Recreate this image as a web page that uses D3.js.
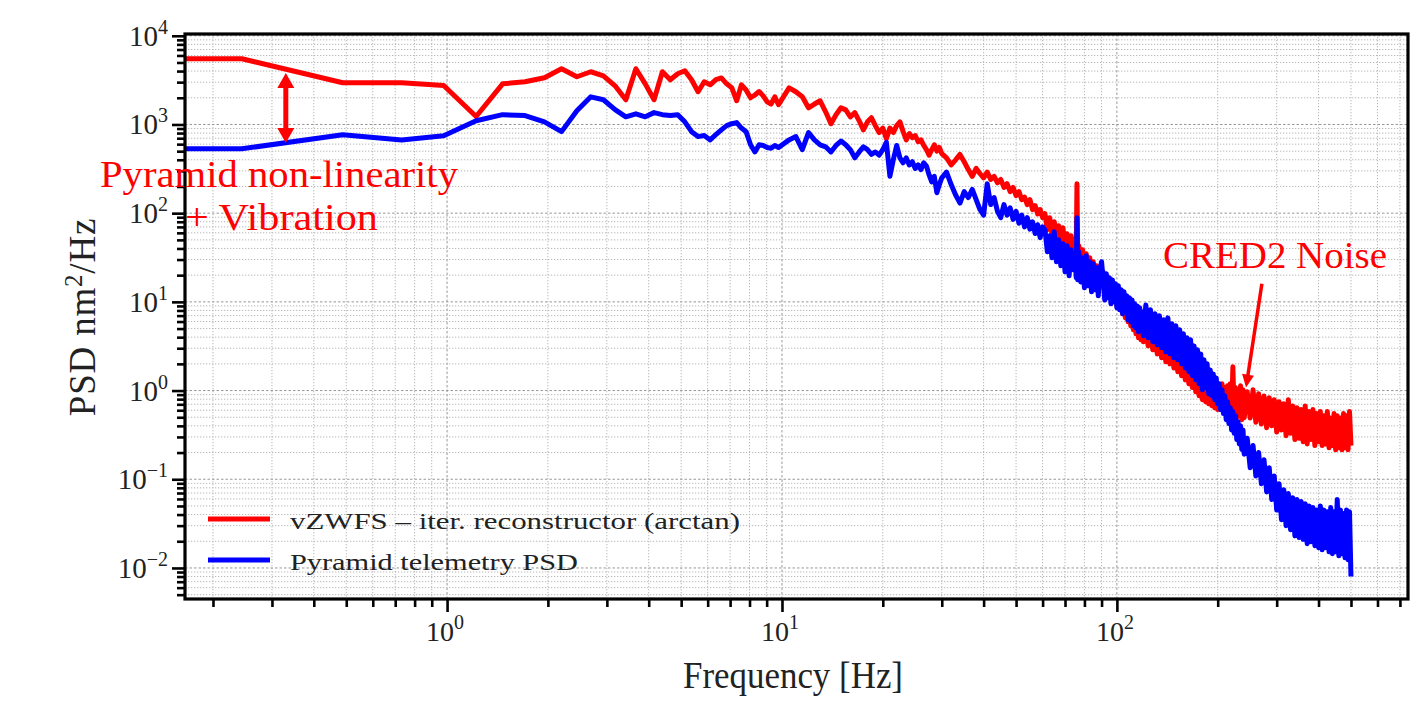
<!DOCTYPE html>
<html lang="en">
<head>
<meta charset="UTF-8" />
<title>PSD comparison</title>
<script src="https://d3js.org/d3.v7.min.js"></script>
<style>
  body { margin: 0; background: #fff; }
  text { font-family: 'Liberation Serif', 'DejaVu Serif', serif; }
</style>
</head>
<body>
<svg width="1417" height="702"></svg>
<script>
// frequency bins [Hz] (dense part thinned)
var freq = [
  0.165, 0.244, 0.488, 0.732, 0.977, 1.221, 1.465, 1.709, 1.953, 2.197, 2.441, 2.686, 2.930, 3.174, 3.418, 3.662, 3.906, 4.150, 4.395, 4.639,
  4.883, 5.127, 5.371, 5.615, 5.859, 6.104, 6.348, 6.592, 6.836, 7.080, 7.324, 7.568, 7.813, 8.057, 8.301, 8.545, 8.789, 9.033, 9.277, 9.521, 9.766,
  10.5, 11, 11.5, 12, 12.5, 13, 13.5, 14, 14.5, 15, 15.5, 16, 16.5, 17, 17.5, 18, 18.5, 19, 19.5, 20,
  20.5, 21, 21.5, 22, 22.5, 23, 23.5, 24, 24.5, 25, 25.5, 26, 26.5, 27, 27.5, 28, 28.5, 29, 29.5, 30,
  31, 32, 33, 34, 35, 36, 37, 38, 39, 40, 41, 42, 43, 44, 45, 46, 47, 48, 49, 50, 51, 52, 53, 54, 55, 56, 57, 58, 59, 60,
  61, 62, 63, 64, 65, 66, 67, 68, 69, 70, 71, 72, 73, 74, 75, 75.6, 76, 76.4, 77, 78, 79, 80,
  81, 82, 83, 84, 85, 86, 87, 88, 89, 90, 91, 92, 93, 94, 95, 96, 97, 98, 99, 100,
  101, 102, 103, 104, 105, 106, 107, 108, 109, 110, 111, 112, 113, 114, 115, 116, 117, 118, 119, 120,
  122, 124, 126, 128, 130, 132, 134, 136, 138, 140, 142, 144, 146, 148, 150, 152, 154, 156, 158, 160,
  162, 164, 166, 168, 170, 172, 174, 176, 178, 180, 182, 184, 186, 188, 190, 192, 194, 196, 198, 200,
  202, 204, 206, 208, 210, 212, 214, 216, 218, 220, 222, 224, 226, 228, 230, 232, 234, 236, 238, 240,
  245, 250, 255, 260, 265, 270, 275, 280, 285, 290, 295, 300, 305, 310, 315, 320, 325, 330, 335, 340, 345, 350, 355, 360, 365, 370,
  375, 380, 385, 390, 395, 400, 405, 410, 415, 420, 425, 430, 435, 440, 445, 450, 455, 460, 465, 470, 475, 480, 485, 490, 495, 500
]

// vZWFS - iter. reconstructor (arctan) PSD [nm^2/Hz]
var psdVzwfs = [
  5500, 5500, 2950, 2950, 2750, 1230, 2870, 3030, 3360, 4250, 3450, 3930, 3540, 2730, 1900, 4250, 2870, 1900, 3930, 3190,
  3730, 4030, 3190, 2340, 3030, 2800, 3200, 3350, 2870, 2600, 1850, 2800, 2450, 2000, 2150, 2350, 2100, 1800, 1700, 2050, 1670,
  2590, 2340, 2050, 1540, 1700, 1850, 1390, 1020, 1290, 1540, 1460, 1220, 1360, 1100, 870, 1070, 1190, 970, 810, 910,
  690, 910, 810, 970, 1070, 830, 670, 790, 710, 750, 640, 670, 580, 520, 450, 520, 590, 500, 550, 470,
  420, 350, 400, 460, 380, 310, 260, 320, 280, 250, 290, 240, 260, 220, 240, 195, 215, 175, 195, 158, 175, 142, 152, 125, 142, 110, 122, 98, 110, 89,
  98.5, 65, 88.8, 58.6, 80, 55.6, 72.1, 50.1, 68.5, 45.2, 58.6, 40.7, 55.6, 36.7, 50.1, 34.9, 215, 33.1, 42.9, 28.3, 38.7, 26.9,
  34.9, 23.0, 31.4, 20.7, 28.3, 18.7, 25.5, 16.8, 23.0, 15.2, 21.8, 13.7, 19.7, 12.3, 17.7, 11.1, 16.0, 10.0, 14.4, 9.0,
  13.0, 8.13, 11.7, 7.33, 10.5, 6.60, 9.5, 5.95, 8.56, 5.37, 7.72, 4.84, 6.96, 4.36, 6.27, 3.93, 5.95, 3.73, 5.37, 3.54,
  4.84, 3.19, 4.36, 2.88, 3.93, 2.59, 3.73, 2.34, 3.36, 2.11, 3.03, 2.00, 2.88, 1.80, 2.59, 1.63, 2.34, 1.47, 2.11, 1.32,
  1.90, 1.19, 1.71, 1.08, 1.63, 0.97, 1.47, 0.875, 1.39, 0.79, 1.32, 0.75, 1.26, 0.71, 1.32, 0.675, 1.19, 0.64, 1.26, 0.61,
  1.13, 0.61, 1.19, 0.58, 1.08, 0.55, 1.13, 0.55, 1.19, 0.52, 1.85, 0.52, 1.08, 0.495, 1.02, 0.52, 1.13, 0.47, 1.02, 0.495,
  0.97, 0.49, 1.02, 0.44, 0.92, 0.42, 0.87, 0.38, 0.83, 0.40, 0.79, 0.34, 0.75, 0.36, 0.71, 0.31, 0.79, 0.33, 0.67, 0.28, 0.64, 0.29, 0.61, 0.265, 0.67, 0.25,
  0.58, 0.28, 0.61, 0.24, 0.55, 0.265, 0.58, 0.24, 0.52, 0.25, 0.58, 0.226, 0.49, 0.24, 0.55, 0.215, 0.52, 0.226, 0.49, 0.215, 0.55, 0.226, 0.52, 0.215, 0.58, 0.24
]

// Pyramid telemetry PSD [nm^2/Hz]
var psdPyramid = [
  532, 532, 765, 670, 747, 1100, 1290, 1260, 1070, 830, 1430, 2050, 1900, 1470, 1220, 1320, 1220, 1360, 1290, 1260,
  1290, 1070, 830, 730, 750, 670, 770, 870, 970, 1020, 1050, 910, 830, 590, 490, 590, 580, 550, 540, 580, 550,
  670, 730, 520, 810, 670, 590, 560, 490, 580, 650, 590, 520, 420, 490, 560, 520, 460, 490, 450, 520,
  630, 260, 400, 580, 420, 370, 420, 350, 380, 320, 350, 310, 370, 340, 270, 225, 260, 170, 210, 250,
  290, 210, 160, 130, 175, 150, 185, 142, 110, 95, 215, 125, 150, 105, 89, 125, 95, 115, 85, 105, 77, 95, 70, 89, 66, 80, 59, 74, 53, 70,
  65, 36.7, 55.6, 31.4, 61.7, 28.3, 50.1, 25.5, 45.2, 21.8, 42.9, 19.7, 38.7, 23.0, 34.9, 18.7, 88.8, 17.7, 36.7, 16.8, 31.4, 14.4,
  33.1, 15.2, 28.3, 13.0, 26.9, 13.7, 24.2, 11.7, 23.0, 28.3, 17.7, 10.5, 20.7, 11.1, 18.7, 9.5, 17.7, 10.0, 16.0, 8.56,
  15.2, 8.13, 13.7, 7.33, 13.0, 7.72, 11.7, 6.27, 11.1, 5.95, 10.5, 5.37, 9.5, 5.10, 9.0, 4.59, 8.56, 4.84, 7.72, 4.14,
  9.2, 3.93, 8.13, 3.54, 7.33, 3.27, 6.96, 3.03, 6.27, 2.73, 6.60, 2.59, 5.65, 2.34, 5.37, 2.22, 4.84, 2.00, 4.36, 1.80,
  3.93, 1.63, 3.73, 1.47, 3.19, 1.32, 2.88, 1.19, 2.59, 1.02, 2.22, 1.08, 2.00, 0.92, 1.71, 0.875, 1.54, 0.79, 1.39, 0.71,
  1.19, 0.61, 1.02, 0.55, 0.875, 0.47, 0.75, 0.424, 0.64, 0.36, 0.58, 0.33, 0.52, 0.28, 0.446, 0.25, 0.40, 0.217, 0.36, 0.192,
  0.29, 0.135, 0.24, 0.109, 0.20, 0.089, 0.166, 0.072, 0.135, 0.059, 0.109, 0.045, 0.089, 0.035, 0.076, 0.030, 0.069, 0.027, 0.062, 0.023, 0.059, 0.022, 0.056, 0.021, 0.053, 0.0188,
  0.050, 0.0197, 0.048, 0.0178, 0.045, 0.0169, 0.050, 0.016, 0.045, 0.0169, 0.043, 0.0152, 0.048, 0.0145, 0.043, 0.0152, 0.059, 0.0137, 0.045, 0.0145, 0.041, 0.013, 0.045, 0.0124, 0.043, 0.008
]

var xMajor = [1, 10, 100]
var xExp = ['0', '1', '2']
var yMajor = [1e-2, 1e-1, 1, 10, 100, 1000, 10000]
var yExp = ['\u22122', '\u22121', '0', '1', '2', '3', '4']
var seriesNames = ['vZWFS \u2013 iter. reconstructor (arctan)', 'Pyramid telemetry PSD']
var seriesColors = ['#ff0000', '#0000ff']

var svg = d3.select('svg')
var pl = 185, pr = 1408, pt = 34, pb = 599

var x = d3.scaleLog().domain([0.165, 740]).range([pl, pr])
var y = d3.scaleLog().domain([Math.pow(10, -2.35), Math.pow(10, 4.02)]).range([pb, pt])

// 2..9 x 10^n inside the domain
function minorsOf(scale) {
  var d = scale.domain(), out = []
  for (var e = Math.floor(Math.log10(d[0])); e <= Math.ceil(Math.log10(d[1])); e++) {
    for (var m = 2; m <= 9; m++) {
      var v = m * Math.pow(10, e)
      if (v >= d[0] && v <= d[1]) out.push(v)
    }
  }
  return out
}
var xMinor = minorsOf(x)
var yMinor = minorsOf(y)

// grid
var grid = svg.append('g')
grid.selectAll('.gx').data(xMinor.concat(xMajor)).enter().append('line')
  .attr('x1', function (d) { return x(d) }).attr('x2', function (d) { return x(d) })
  .attr('y1', pt).attr('y2', pb)
  .attr('stroke', function (d) { return xMajor.indexOf(d) >= 0 ? '#999' : '#b8b8b8' })
  .attr('stroke-width', 1)
  .attr('stroke-dasharray', function (d) { return xMajor.indexOf(d) >= 0 ? '2.5,2' : '1.3,1.7' })
grid.selectAll('.gy').data(yMinor.concat(yMajor)).enter().append('line')
  .attr('y1', function (d) { return y(d) }).attr('y2', function (d) { return y(d) })
  .attr('x1', pl).attr('x2', pr)
  .attr('stroke', function (d) { return yMajor.indexOf(d) >= 0 ? '#999' : '#b8b8b8' })
  .attr('stroke-width', 1)
  .attr('stroke-dasharray', function (d) { return yMajor.indexOf(d) >= 0 ? '2.5,2' : '1.3,1.7' })

// clip
svg.append('clipPath').attr('id', 'plot')
  .append('rect').attr('x', pl).attr('y', pt).attr('width', pr - pl).attr('height', pb - pt)

var line = d3.line()
  .x(function (d) { return x(d[0]) })
  .y(function (d) { return y(d[1]) })

var series = [psdVzwfs, psdPyramid].map(function (vals) {
  return freq.map(function (f, i) { return [f, vals[i]] })
})

svg.append('g').attr('clip-path', 'url(#plot)')
  .selectAll('path').data(series).enter().append('path')
  .attr('d', line)
  .attr('fill', 'none')
  .attr('stroke', function (d, i) { return seriesColors[i] })
  .attr('stroke-width', 5)
  .attr('stroke-linejoin', 'round')

// axes ticks
function styleTicks(g) {
  g.select('.domain').remove()
  g.selectAll('.tick line').attr('stroke', '#000').attr('stroke-width', 2.6)
}
svg.append('g').attr('transform', 'translate(0,' + pb + ')')
  .call(d3.axisBottom(x).tickValues(xMinor).tickSize(8).tickFormat('')).call(styleTicks)
svg.append('g').attr('transform', 'translate(0,' + pb + ')')
  .call(d3.axisBottom(x).tickValues(xMajor).tickSize(13).tickFormat('')).call(styleTicks)
svg.append('g').attr('transform', 'translate(' + pl + ',0)')
  .call(d3.axisLeft(y).tickValues(yMinor).tickSize(8).tickFormat('')).call(styleTicks)
svg.append('g').attr('transform', 'translate(' + pl + ',0)')
  .call(d3.axisLeft(y).tickValues(yMajor).tickSize(13).tickFormat('')).call(styleTicks)

// frame
svg.append('rect').attr('x', pl).attr('y', pt).attr('width', pr - pl).attr('height', pb - pt)
  .attr('fill', 'none').attr('stroke', '#000').attr('stroke-width', 3.2)

// tick labels
var xl = svg.append('g').selectAll('text').data(xMajor).enter().append('text')
  .attr('x', function (d) { return x(d) - 2 }).attr('y', 641)
  .attr('text-anchor', 'middle').attr('font-size', 28).attr('fill', '#222')
xl.append('tspan').text('10')
xl.append('tspan').attr('dy', -12).attr('font-size', 20).text(function (d, i) { return xExp[i] })

var yl = svg.append('g').selectAll('text').data(yMajor).enter().append('text')
  .attr('x', 168).attr('y', function (d) { return y(d) + 10 })
  .attr('text-anchor', 'end').attr('font-size', 29).attr('fill', '#222')
yl.append('tspan').text('10')
yl.append('tspan').attr('dy', -12).attr('font-size', 20).text(function (d, i) { return yExp[i] })

// axis titles
svg.append('text').attr('x', 793).attr('y', 688).attr('text-anchor', 'middle')
  .attr('font-size', 37).attr('fill', '#222').attr('textLength', 220).attr('lengthAdjust', 'spacingAndGlyphs')
  .text('Frequency [Hz]')
var yt = svg.append('text').attr('transform', 'translate(95,317) rotate(-90)')
  .attr('text-anchor', 'middle').attr('font-size', 37).attr('letter-spacing', 0.8).attr('fill', '#222')
yt.append('tspan').text('PSD nm')
yt.append('tspan').attr('dy', -13).attr('font-size', 25).text('2')
yt.append('tspan').attr('dy', 13).text('/Hz')

// legend
var leg = svg.append('g').selectAll('g').data(seriesNames).enter().append('g')
  .attr('transform', function (d, i) { return 'translate(0,' + (519 + i * 41) + ')' })
leg.append('line').attr('x1', 208).attr('x2', 270)
  .attr('stroke', function (d, i) { return seriesColors[i] }).attr('stroke-width', 5)
leg.append('text').attr('x', 290).attr('y', 10).attr('font-size', 24).attr('fill', '#222')
  .attr('textLength', function (d, i) { return i === 0 ? 450 : 288 }).attr('lengthAdjust', 'spacingAndGlyphs')
  .text(function (d) { return d })

// annotations
var red = '#ff0000'
function arrowHead(g, tip, from, len, half) {
  var dx = tip[0] - from[0], dy = tip[1] - from[1], n = Math.sqrt(dx * dx + dy * dy)
  var ux = dx / n, uy = dy / n
  var bx = tip[0] - ux * len, by = tip[1] - uy * len
  g.append('path').attr('fill', red)
    .attr('d', 'M' + tip[0] + ',' + tip[1] + 'L' + (bx - uy * half) + ',' + (by + ux * half) +
      'L' + (bx + uy * half) + ',' + (by - ux * half) + 'Z')
}
var ann = svg.append('g')

// double arrow between the two curves at 0.33 Hz
var pTop = [x(0.33), y(3800)], pBot = [x(0.33), y(620)]
ann.append('line').attr('x1', pTop[0]).attr('y1', pTop[1] + 10).attr('x2', pBot[0]).attr('y2', pBot[1] - 10)
  .attr('stroke', red).attr('stroke-width', 5)
arrowHead(ann, pTop, pBot, 15, 8.5)
arrowHead(ann, pBot, pTop, 15, 8.5)

// CRED2 noise arrow
var aFrom = [x(271), y(16)], aTo = [x(243), y(1.08)]
var dxa = aTo[0] - aFrom[0], dya = aTo[1] - aFrom[1], na = Math.sqrt(dxa * dxa + dya * dya)
ann.append('line').attr('x1', aFrom[0]).attr('y1', aFrom[1])
  .attr('x2', aTo[0] - dxa / na * 10).attr('y2', aTo[1] - dya / na * 10)
  .attr('stroke', red).attr('stroke-width', 3.5)
arrowHead(ann, aTo, aFrom, 13, 6)

ann.append('text').attr('x', 100).attr('y', 187).attr('font-size', 38).attr('fill', red)
  .attr('textLength', 358).attr('lengthAdjust', 'spacingAndGlyphs').text('Pyramid non-linearity')
ann.append('text').attr('x', 185).attr('y', 230).attr('font-size', 38).attr('fill', red)
  .attr('textLength', 193).attr('lengthAdjust', 'spacingAndGlyphs').text('+ Vibration')
ann.append('text').attr('x', 1163).attr('y', 268).attr('font-size', 38).attr('fill', red)
  .attr('textLength', 224).attr('lengthAdjust', 'spacingAndGlyphs').text('CRED2 Noise')
</script>
</body>
</html>
